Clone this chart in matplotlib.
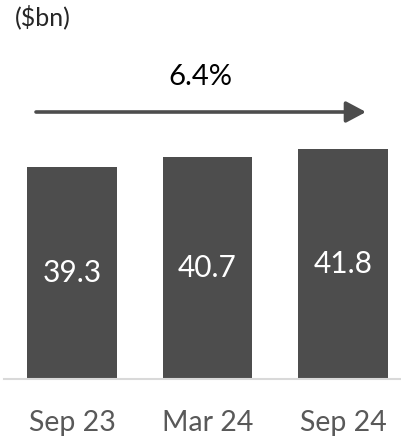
import matplotlib
matplotlib.use("Agg")
import matplotlib.pyplot as plt
from matplotlib.patches import FancyArrowPatch

plt.rcParams['font.family'] = ['Lato', 'DejaVu Sans']

# data
periods = ['Sep 23', 'Mar 24', 'Sep 24']
values = [39.3, 40.7, 41.8]
growth_label = '6.4%'
unit_label = '($bn)'

bar_color = '#4d4d4d'
W, H = 401, 441
fig = plt.figure(figsize=(W / 100, H / 100), dpi=100)

y0, y1 = 9.9, 43.0
ax = fig.add_axes([4 / W, (H - 378.5) / H, 397 / W, (y1 - y0) * 7.2 / H])
x = list(range(len(periods)))
ax.bar(x, values, width=0.664, color=bar_color, zorder=2)
ax.set_xlim(-0.502, 2.428)
ax.set_ylim(y0, y1)

# value labels sit in the middle of each bar
for i, v in enumerate(values):
    ax.text(i, (y0 + v) / 2, f'{v:.1f}', ha='center', va='center',
            color='white', fontsize=21.5)

for s in ['top', 'right', 'left']:
    ax.spines[s].set_visible(False)
ax.spines['bottom'].set_color('#d9d9d9')
ax.spines['bottom'].set_linewidth(1.5)
ax.set_yticks([])
ax.set_xticks(x)
ax.set_xticklabels(periods, fontsize=20.5, color='#595959')
ax.tick_params(axis='x', length=0, pad=23)

# growth arrow above the bars
arrow = FancyArrowPatch((36 / W, 329 / H), (366 / W, 329 / H),
                        transform=fig.transFigure,
                        arrowstyle='-|>,head_length=0.6,head_width=0.32',
                        mutation_scale=20, color=bar_color, lw=2.6,
                        shrinkA=0, shrinkB=0)
fig.add_artist(arrow)
fig.text(200 / W, (H - 85) / H, growth_label, ha='center', va='baseline',
         fontsize=21, color='black')

fig.text(15 / W, (H - 25) / H, unit_label, ha='left', va='baseline',
         fontsize=18, color='#262626')

fig.savefig('out.png', dpi=100)
